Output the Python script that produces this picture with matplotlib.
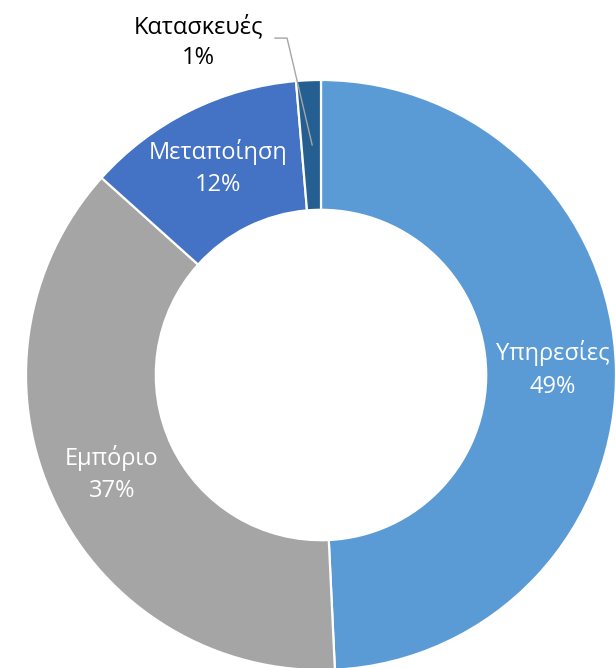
import matplotlib
matplotlib.use("Agg")
import matplotlib.pyplot as plt
import numpy as np

categories = ["Υπηρεσίες", "Εμπόριο", "Μεταποίηση", "Κατασκευές"]
values = [49.25, 37.4, 12.0, 1.35]
pct_labels = ["49%", "37%", "12%", "1%"]
colors = ["#5B9BD5", "#A5A5A5", "#4472C4", "#255E91"]

plt.rcParams['font.family'] = ['Open Sans', 'DejaVu Sans']

W, H = 616, 668
fig = plt.figure(figsize=(W / 100, H / 100), dpi=100)
cx, cy, R = 321, 375, 295
ax = fig.add_axes([(cx - R) / W, (H - cy - R) / H, 2 * R / W, 2 * R / H])

wedges, _ = ax.pie(values, colors=colors, startangle=90, counterclock=False,
                   radius=1.0, wedgeprops=dict(width=0.44, edgecolor='white', linewidth=1.6))
ax.set_xlim(-1, 1)
ax.set_ylim(-1, 1)
ax.set_aspect('equal')
ax.axis('off')

fs = 17
r_lab = 0.785
for i in range(3):
    w = wedges[i]
    mid = np.deg2rad((w.theta1 + w.theta2) / 2)
    x, y = r_lab * np.cos(mid), r_lab * np.sin(mid)
    ax.text(x, y, categories[i] + "\n" + pct_labels[i], ha='center', va='center',
            color='white', fontsize=fs, linespacing=1.45)

# outside label for small slice
ax.text(-0.415, 1.127, categories[3] + "\n" + pct_labels[3], ha='center', va='center',
        color='black', fontsize=fs, linespacing=1.35, clip_on=False)
ax.plot([-0.156, -0.115, -0.03], [1.142, 1.142, 0.78], color='#A6A6A6', lw=1.0,
        clip_on=False)

fig.savefig("out.png", dpi=100)
